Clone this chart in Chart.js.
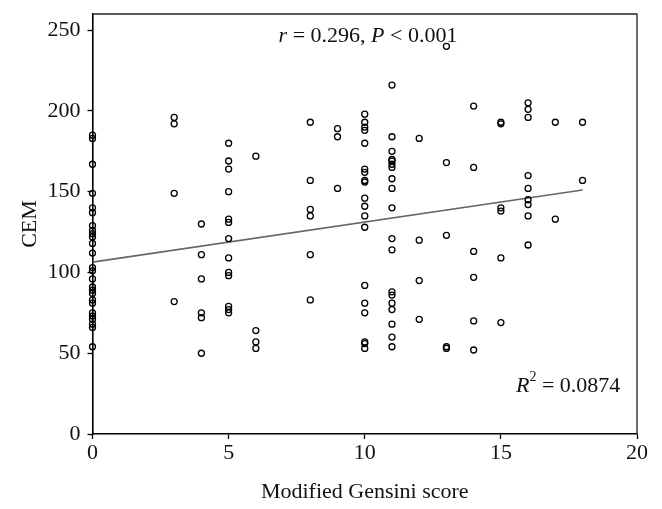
<!DOCTYPE html>
<html lang="en">
<head>
    <meta charset="UTF-8">
    <title>CEM vs Modified Gensini score</title>
    <script src="https://cdn.jsdelivr.net/npm/chart.js"></script>
    <style>
        html, body { margin: 0; padding: 0; background: #fff; }
        #box { width: 662px; height: 509px; }
    </style>
</head>
<body>

    <div id="box">
        <canvas id="scatterChart"></canvas>
    </div>

    <script>
        // Données : score de Gensini (x) et valeurs de CEM (y) pour chaque score
        const gensiniScores = [0, 3, 4, 5, 6, 8, 9, 10, 11, 12, 13, 14, 15, 16, 17, 18];
        const cemValues = [
            [185, 183, 167, 149, 140, 137, 129, 126, 124, 122, 118, 112, 103, 101, 96, 91, 89, 87, 83, 81, 75, 73, 71, 68, 66, 54],
            [196, 192, 149, 82],
            [130, 111, 96, 75, 72, 50],
            [180, 169, 164, 150, 133, 131, 121, 109, 100, 98, 79, 77, 75],
            [172, 64, 57, 53],
            [193, 157, 139, 135, 111, 83],
            [189, 184, 152],
            [198, 193, 190, 188, 180, 164, 162, 157, 156, 146, 141, 135, 128, 92, 81, 75, 57, 56, 53],
            [216, 184, 175, 170, 169, 167, 165, 158, 152, 140, 121, 114, 88, 86, 81, 77, 68, 60, 54],
            [183, 120, 95, 71],
            [240, 168, 123, 54, 53],
            [203, 165, 113, 97, 70, 52],
            [193, 192, 140, 138, 109, 69],
            [205, 201, 196, 160, 152, 145, 142, 135, 117],
            [193, 133],
            [193, 157]
        ];

        // Droite de régression (extrémités)
        const trendX = [0, 18];
        const trendY = [106.4, 151];

        const xTicks = [0, 5, 10, 15, 20];
        const yTicks = [0, 50, 100, 150, 200, 250];

        const serif = "'Liberation Serif', 'DejaVu Serif', serif";

        const points = [];
        gensiniScores.forEach((s, i) => {
            cemValues[i].forEach(v => points.push({ x: s, y: v }));
        });

        // Cadre + annotations r / R²
        const extras = {
            id: 'extras',
            afterDraw(chart) {
                const c = chart.ctx;
                const a = chart.chartArea;
                c.save();
                c.strokeStyle = '#222';
                c.lineWidth = 1.3;
                c.beginPath();
                c.moveTo(a.left, a.top);
                c.lineTo(a.right, a.top);
                c.lineTo(a.right, a.bottom);
                c.stroke();

                c.fillStyle = '#111';
                c.textBaseline = 'alphabetic';
                c.textAlign = 'left';
                const parts = [
                    ['italic', 'r'], ['normal', ' = 0.296, '], ['italic', 'P'], ['normal', ' < 0.001']
                ];
                let w = 0;
                parts.forEach(p => { c.font = p[0] + ' 22px ' + serif; w += c.measureText(p[1]).width; });
                let x = 368 - w / 2;
                parts.forEach(p => {
                    c.font = p[0] + ' 22px ' + serif;
                    c.fillText(p[1], x, 42);
                    x += c.measureText(p[1]).width;
                });

                x = 516;
                c.font = 'italic 22px ' + serif;
                c.fillText('R', x, 392);
                x += c.measureText('R').width;
                c.font = '14px ' + serif;
                c.fillText('2', x, 381);
                x += c.measureText('2').width;
                c.font = '22px ' + serif;
                c.fillText(' = 0.0874', x, 392);
                c.restore();
            }
        };

        new Chart(document.getElementById('scatterChart'), {
            type: 'scatter',
            data: {
                datasets: [
                    {
                        label: 'CEM',
                        data: points,
                        clip: false,
                        pointRadius: 3,
                        pointHoverRadius: 3,
                        pointBorderWidth: 1.3,
                        borderColor: '#000',
                        backgroundColor: 'rgba(0,0,0,0)'
                    },
                    {
                        type: 'line',
                        label: 'Tendance',
                        data: trendX.map((v, i) => ({ x: v, y: trendY[i] })),
                        borderColor: '#666',
                        borderWidth: 1.6,
                        pointRadius: 0,
                        fill: false
                    }
                ]
            },
            options: {
                responsive: true,
                maintainAspectRatio: false,
                animation: false,
                layout: { padding: { left: 17, right: 25, top: 14, bottom: 4 } },
                plugins: {
                    legend: { display: false },
                    tooltip: { enabled: false }
                },
                scales: {
                    x: {
                        type: 'linear',
                        min: 0,
                        max: 20,
                        afterBuildTicks: s => { s.ticks = xTicks.map(v => ({ value: v })); },
                        afterFit: s => { s.height = 71; s.paddingLeft = 0; s.paddingRight = 0; },
                        border: { display: true, color: '#000', width: 1.6 },
                        grid: { drawOnChartArea: false, drawTicks: true, tickLength: 5, color: '#000', tickWidth: 1.3 },
                        ticks: { color: '#111', font: { family: serif, size: 22 }, padding: 1, maxRotation: 0 },
                        title: {
                            display: true,
                            text: 'Modified Gensini score',
                            color: '#111',
                            font: { family: serif, size: 22 },
                            padding: { top: 6, bottom: 0 }
                        }
                    },
                    y: {
                        type: 'linear',
                        min: 0,
                        max: 260,
                        afterBuildTicks: s => { s.ticks = yTicks.map(v => ({ value: v })); },
                        afterFit: s => { s.width = 75.5; s.paddingTop = 0; s.paddingBottom = 0; },
                        border: { display: true, color: '#000', width: 1.6 },
                        grid: { drawOnChartArea: false, drawTicks: true, tickLength: 5, color: '#000', tickWidth: 1.3 },
                        ticks: { color: '#111', font: { family: serif, size: 22 }, padding: 7 },
                        title: {
                            display: true,
                            text: 'CEM',
                            color: '#111',
                            font: { family: serif, size: 22 },
                            padding: 0
                        }
                    }
                }
            },
            plugins: [extras]
        });
    </script>
</body>
</html>
